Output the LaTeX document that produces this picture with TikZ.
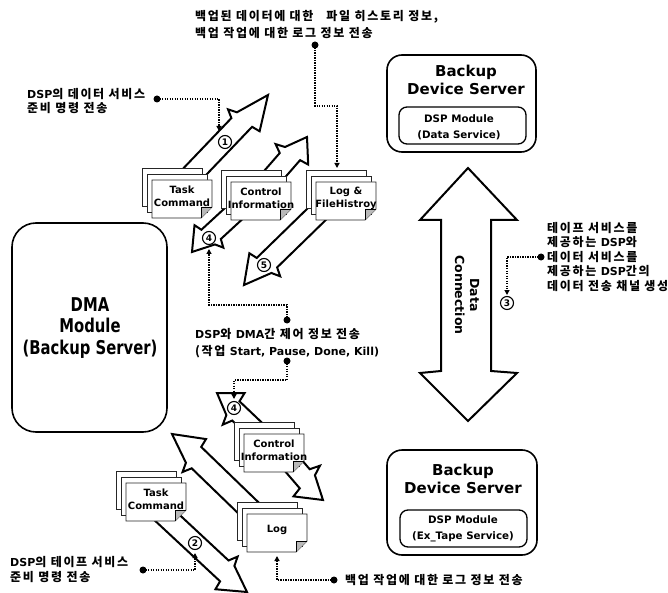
\documentclass[tikz,border=0pt]{standalone}
\usepackage{fontspec}
\usepackage{graphicx}
\setmainfont{DejaVu Sans}
\newfontfamily\kr{Noto Sans CJK KR}[LetterSpace=14]
\newfontfamily\enf{DejaVu Sans}
\newcommand\en[1]{{\enf\bfseries\fontsize{11}{15}\selectfont #1}}
\usetikzlibrary{calc,arrows.meta}

\tikzset{
 barrow/.style={draw=black, line width=2pt, fill=white, line join=miter},
 sheet/.style={draw=black!85, line width=0.8pt, fill=white},
 doctext/.style={font=\bfseries\fontsize{10}{13}\selectfont, align=center, inner sep=0pt},
 conn/.style={line width=1.4pt, dash pattern=on 1.2pt off 1.3pt, -{Triangle[length=5pt,width=5pt]}},
 bigdot/.style={circle, fill=black, inner sep=0pt, minimum size=7pt},
 numc/.style={circle, draw, line width=1.1pt, fill=white, inner sep=0pt, minimum size=13pt, font=\bfseries\fontsize{9}{9}\selectfont},
 krtext/.style={font=\kr\bfseries\fontsize{12}{15}\selectfont, align=left, inner sep=0pt, anchor=west},
 srvbox/.style={draw, line width=1.6pt, rounded corners=15pt, inner sep=0pt},
 dspbox/.style={draw, line width=1.3pt, rounded corners=8pt, inner sep=0pt, minimum width=127pt, minimum height=37pt},
 srvtext/.style={font=\bfseries\fontsize{15}{18.3}\selectfont, align=center, inner sep=0pt},
 dsptext/.style={font=\bfseries\fontsize{10.3}{16.5}\selectfont, align=center, inner sep=0pt}
}

% zigzag block arrow: #1 base, #2 tip, #3 shaft half width, #4 barb half width, #5 head length, #6 side
\newcommand\zarrow[6]{%
 \pgfmathsetmacro\za{90*#6}%
 \pgfmathsetmacro\zb{-90*#6}%
 \pgfmathsetmacro\hA{#5}%
 \pgfmathsetmacro\hB{#5-4}%
 \pgfmathsetmacro\hC{#5-8}%
 \pgfmathsetmacro\hD{#5-10}%
 \draw[barrow] ($#1!#3pt!\za:#2$) -- ($#2!\hA pt!#1!#3pt!\zb:#1$) -- ($#2!\hB pt!#1!#4pt!\zb:#1$) -- ($#2!\hC pt!#1!#3pt!\zb:#1$) -- #2 -- ($#2!\hD pt!#1!#4pt!\za:#1$) -- ($#2!\hC pt!#1!#3pt!\za:#1$) -- ($#1!#3pt!\zb:#2$) -- cycle;}

% stack of documents: #1 name, #2 x, #3 y (front top-left), #4 text
\newcommand\docstack[4]{%
 \draw[sheet] (#2-10,#3-12) rectangle ++(60,38);
 \draw[sheet] (#2-5,#3-6) rectangle ++(60,38);
 \draw[sheet] (#2,#3) -- ++(60,0) -- ++(0,27) -- ++(-11,11) -- ++(-49,0) -- cycle;
 \fill[gray!55] (#2+60,#3+27) -- (#2+49,#3+38) -- (#2+49,#3+27) -- cycle;
 \draw[line width=0.6pt] (#2+60,#3+27) -- (#2+49,#3+27) -- (#2+49,#3+38);
 \node[doctext] (#1) at (#2+30,#3+16) {#4};}

\begin{document}
\begin{tikzpicture}[x=1pt,y=-1pt]
\useasboundingbox (0,0) rectangle (668,593);

% ---------- block arrows ----------
\zarrow{(181,186)}{(268,95)}{10.5}{19}{42}{1}
\zarrow{(266,184)}{(307,137)}{10}{19}{30}{1}
\zarrow{(243,205)}{(192,252)}{10}{18}{30}{1}
\zarrow{(321,210)}{(244,285)}{10.5}{19}{36}{1}
\zarrow{(259,433)}{(217,393)}{9.5}{19}{30}{1}
\zarrow{(280,450)}{(323,500)}{10}{20}{32}{1}
\zarrow{(263,522)}{(172,434)}{11}{20}{38}{1}
\zarrow{(160,511)}{(247,592)}{10.5}{19.5}{35}{1}

% ---------- document stacks ----------
\docstack{tcA}{152}{180}{Task\\Command}
\docstack{ciA}{231}{182}{Control\\Information}
\docstack{lfA}{316}{182}{Log \&\\FileHistroy}
\docstack{ciB}{244}{434}{Control\\Information}
\docstack{tcB}{126}{483}{Task\\Command}
\docstack{lgB}{247}{514}{Log}

% ---------- DMA module ----------
\node[draw, line width=1.6pt, rounded corners=24pt, minimum width=155pt, minimum height=209pt, inner sep=0pt] (dma) at (89.5,327.5) {};
\node[font=\bfseries\fontsize{19}{21.7}\selectfont, inner sep=0pt] (dmat) at (90,328.5)
 {\scalebox{0.78}[1]{\begin{tabular}{@{}c@{}}DMA\\Module\\(Backup Server)\end{tabular}}};

% ---------- backup device servers ----------
\node[srvbox, minimum width=149pt, minimum height=97pt] (srvA) at (461.5,103.5) {};
\node[dspbox] (dspA) at (462.5,125.5) {};
\node[srvtext] (srvAt) at (466,80) {Backup\\Device Server};
\node[dsptext] (dspAt) at (459,127.5) {DSP Module\\(Data Service)};

\node[srvbox, minimum width=150pt, minimum height=105pt] (srvB) at (462,502.5) {};
\node[dspbox] (dspB) at (463.5,528.5) {};
\node[srvtext] (srvBt) at (463,478.7) {Backup\\Device Server};
\node[dsptext] (dspBt) at (463,529) {DSP Module\\(Ex\_Tape Service)};

% ---------- data connection double arrow ----------
\draw[barrow] (468,168) -- (517,220) -- (491,220) -- (491,371) -- (517,373) -- (468,421)
  -- (420,373) -- (441,371) -- (441,220) -- (420,220) -- cycle;
\node[font=\bfseries\fontsize{12.5}{15}\selectfont, align=center, rotate=-90, inner sep=0pt] (dc) at (467,295) {Data\\Connection};

% ---------- numbered circles ----------
\node[numc] (n1) at (225,142) {1};
\node[numc] (n4a) at (209,238) {4};
\node[numc] (n5) at (264,265) {5};
\node[numc] (n3) at (507,303) {3};
\node[numc] (n4b) at (234,408) {4};
\node[numc] (n2) at (195,543) {2};

% ---------- texts ----------
\node[krtext, font=\kr\bfseries\fontsize{12}{17}\selectfont] (tTop) at (195,24.5)
 {백업된 데이터에 대한\hspace{13pt}파일 히스토리 정보,\\백업 작업에 대한 로그 정보 전송};
\node[krtext, font=\kr\bfseries\fontsize{12}{14}\selectfont] (tB) at (27,101)
 {\en{DSP}의 데이터 서비스\\준비 명령 전송};
\node[krtext, font=\kr\bfseries\fontsize{12}{17}\selectfont] (tC) at (195,343.5)
 {\en{DSP}와 \en{DMA}간 제어 정보 전송\\(작업 \en{Start, Pause, Done, Kill)}};
\node[krtext, font=\kr\bfseries\fontsize{12}{14.5}\selectfont] (tG) at (547,257)
 {테이프 서비스를\\제공하는 \en{DSP}와\\데이터 서비스를\\제공하는 \en{DSP}간의\\데이터 전송 채널 생성};
\node[krtext, font=\kr\bfseries\fontsize{12}{15}\selectfont] (tE) at (10,569.5)
 {\en{DSP}의 테이프 서비스\\준비 명령 전송};
\node[krtext] (tF) at (345,580) {백업 작업에 대한 로그 정보 전송};

% ---------- dotted connectors ----------
\node[bigdot] (dA) at (315,45) {};
\coordinate (kA1) at (315,106);
\coordinate (kA2) at (337,168);
\draw[conn] (dA.center) -- (kA1) -| (kA2);

\node[bigdot] (dB) at (157,99) {};
\coordinate (kB) at (219,131);
\draw[conn] (dB.center) -| (kB);

\node[bigdot] (dC) at (287,320) {};
\coordinate (kC1) at (209,305);
\coordinate (kC2) at (209,249);
\draw[conn] (dC.center) |- (kC1) -- (kC2);

\node[bigdot] (dD) at (287,361) {};
\coordinate (kD1) at (234,380);
\coordinate (kD2) at (234,399);
\draw[conn] (dD.center) |- (kD1) -- (kD2);

\node[bigdot] (dE) at (143,570) {};
\coordinate (kE) at (195,553);
\draw[conn] (dE.center) -| (kE);

\node[bigdot] (dF) at (334,580) {};
\coordinate (kF) at (277,556);
\draw[conn] (dF.center) -| (kF);

\node[bigdot] (dG) at (541,257) {};
\coordinate (kG) at (507,295);
\draw[conn] (dG.center) -| (kG);
\end{tikzpicture}
\end{document}
